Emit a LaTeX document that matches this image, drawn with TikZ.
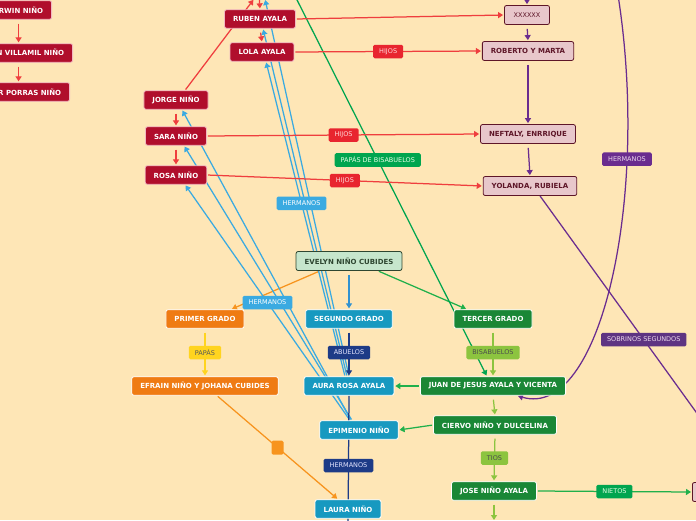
\documentclass[tikz,border=0pt]{standalone}
\usepackage{fontspec}
\setmainfont{DejaVu Sans}
\usetikzlibrary{arrows.meta}

\definecolor{paper}{HTML}{FEE6B6}
\definecolor{crimson}{HTML}{B00E2C}
\definecolor{blush}{HTML}{F2B8C2}
\definecolor{rose}{HTML}{E8C7CB}
\definecolor{maroon}{HTML}{5E1628}
\definecolor{tealbox}{HTML}{1799C0}
\definecolor{forest}{HTML}{1A8736}
\definecolor{tangerine}{HTML}{EF7B13}
\definecolor{mint}{HTML}{C6E6CC}
\definecolor{pine}{HTML}{2E4630}
\definecolor{redline}{HTML}{EF3E3E}
\definecolor{hijosred}{HTML}{E8252F}
\definecolor{grape}{HTML}{6A2C8F}
\definecolor{plum}{HTML}{5E3482}
\definecolor{sky}{HTML}{3AAAE1}
\definecolor{skydark}{HTML}{3092D1}
\definecolor{navy}{HTML}{1D3B87}
\definecolor{leaf}{HTML}{20B04B}
\definecolor{kelly}{HTML}{00A54F}
\definecolor{lime}{HTML}{8CC43F}
\definecolor{amber}{HTML}{F7941E}
\definecolor{gold}{HTML}{FFD41F}

\newcommand\boxfont{\bfseries\fontsize{7}{8.4}\selectfont}
\newcommand\tagfont{\fontsize{6.5}{7.8}\selectfont}

\pgfdeclarelayer{bg}
\pgfdeclarelayer{edges}
\pgfsetlayers{bg,edges,main}

\begin{document}
\begin{tikzpicture}[x=1pt, y=-1pt, node distance=36pt, >={Triangle[width=6pt,length=5pt]},
  block/.style={rectangle, rounded corners=2pt, draw=white, line width=0.8pt, minimum height=18.5pt, inner xsep=8.5pt, inner ysep=1pt, text=white, font=\boxfont},
  rednode/.style={block, fill=crimson, draw=blush},
  pinknode/.style={block, fill=rose, draw=maroon, text=maroon, minimum height=19pt},
  tealnode/.style={block, fill=tealbox},
  greennode/.style={block, fill=forest},
  orangenode/.style={block, fill=tangerine},
  mintnode/.style={block, fill=mint, draw=pine, text=pine, minimum height=19pt},
  tag/.style={rectangle, rounded corners=1.5pt, minimum height=13.5pt, inner xsep=6pt, inner ysep=1pt, font=\tagfont},
  hijostag/.style={tag, fill=hijosred, text=red!15},
  skytag/.style={tag, fill=sky, text=white},
  navytag/.style={tag, fill=navy, text=blue!10},
  purpletag/.style={tag, fill=grape, text=violet!15},
  plumtag/.style={tag, fill=plum, text=violet!15},
  kellytag/.style={tag, fill=kelly, text=green!10},
  limetag/.style={tag, fill=lime, text=black!70},
  goldtag/.style={tag, fill=gold, text=black!65},
  amberbox/.style={rectangle, rounded corners=1.5pt, fill=amber, minimum width=12pt, minimum height=14pt, inner sep=0pt},
  link/.style={->, line width=1.25pt, shorten <=1pt, shorten >=1pt},
  vgap/.style={shorten <=4pt}]

  \begin{pgfonlayer}{bg}
    \fill[paper] (0,0) rectangle (696,520);
  \end{pgfonlayer}
  \useasboundingbox (0,0) rectangle (696,520);

  % left edge
  \node[rednode, anchor=east] (erwin) at (52,10) {ERWIN NIÑO};
  \node[rednode, anchor=east] (villamil) at (73,53) {JHON VILLAMIL NIÑO};
  \node[rednode, anchor=east] (porras) at (70,92) {OSCAR PORRAS NIÑO};

  \node[rednode] (jorge) at (176,100) {JORGE NIÑO};
  \node[rednode, below of=jorge] (sara) {SARA NIÑO};
  \node[rednode, below of=sara, node distance=39pt] (rosa) {ROSA NIÑO};

  \node[rednode] (ruben) at (260,19) {RUBEN AYALA};
  \node[rednode, below of=ruben, node distance=33pt, xshift=2pt] (lola) {LOLA AYALA};

  % right column
  \node[pinknode, font=\tagfont, minimum width=45pt] (xxxxxx) at (527,15) {XXXXXX};
  \node[pinknode] (roberto) at (528,51) {ROBERTO Y MARTA};
  \node[pinknode] (neftaly) at (528,134) {NEFTALY, ENRRIQUE};
  \node[pinknode] (yolanda) at (530,186) {YOLANDA, RUBIELA};
  \node[pinknode, anchor=west, minimum width=40pt] (nietos) at (692,492) {};

  % grades
  \node[mintnode] (evelyn) at (349,261) {EVELYN NIÑO CUBIDES};
  \node[orangenode] (primer) at (205,319) {PRIMER GRADO};
  \node[tealnode] (segundo) at (349,319) {SEGUNDO GRADO};
  \node[greennode] (tercer) at (493,319) {TERCER GRADO};
  \node[orangenode, below of=primer, node distance=67pt] (efrain) {EFRAIN NIÑO Y JOHANA CUBIDES};
  \node[tealnode, below of=segundo, node distance=67pt] (aura) {AURA ROSA AYALA};
  \node[greennode, below of=tercer, node distance=67pt] (juan) {JUAN DE JESUS AYALA Y VICENTA};
  \node[tealnode] (epimenio) at (359,430) {EPIMENIO NIÑO};
  \node[greennode] (ciervo) at (495,425) {CIERVO NIÑO Y DULCELINA};
  \node[tealnode] (laura) at (348,509) {LAURA NIÑO};
  \node[greennode] (jose) at (494,491) {JOSE NIÑO AYALA};

  % loose ends off the page
  \node[coordinate] (jorgetop) at (254,-1) {};
  \node[coordinate] (rubentop) at (259,-6) {};
  \node[coordinate] (skytop) at (265,-1) {};
  \node[coordinate] (xtop) at (527,-8) {};
  \node[coordinate] (greentop) at (292,-10) {};
  \node[coordinate] (curvetop) at (618,-5) {};
  \node[coordinate] (sobrinos) at (722,448) {};
  \node[coordinate] (navyend) at (348,530) {};
  \node[coordinate] (joseend) at (494,521) {};

  \begin{pgfonlayer}{edges}
  % orange
  \draw[link, amber] ([xshift=-29pt]evelyn.south) -- ([xshift=26pt]primer.north);
  \draw[link, gold, vgap] (primer.south) -- node[goldtag] {PAPÁS} (efrain.north);
  \draw[link, amber] ([xshift=12pt]efrain.south) -- node[amberbox] {} ([xshift=-10pt]laura.north);

  % green
  \draw[link, leaf] ([xshift=29pt]evelyn.south) -- ([xshift=-26pt]tercer.north);
  \draw[link, kelly] (greentop) -- node[kellytag, pos=0.44] {PAPÁS DE BISABUELOS} ([xshift=-6pt]juan.north);
  \draw[link, leaf] (juan.west) -- (aura.east);
  \draw[link, leaf] (ciervo.west) -- (epimenio.east);
  \draw[link, leaf] (jose.east) -- node[kellytag] {NIETOS} (nietos.west);
  \draw[link, lime, vgap] (tercer.south) -- node[limetag] {BISABUELOS} (juan.north);
  \draw[link, lime, vgap] (juan.south) -- (ciervo.north);
  \draw[link, lime, vgap] (ciervo.south) -- node[limetag] {TIOS} (jose.north);
  \draw[link, lime, vgap] (jose.south) -- (joseend);

  % purple
  \draw[link, grape] (xtop) -- (xxxxxx.north);
  \draw[link, grape, vgap] (xxxxxx.south) -- (roberto.north);
  \draw[link, grape, vgap] (roberto.south) -- (neftaly.north);
  \draw[link, grape, vgap] (neftaly.south) -- (yolanda.north);
  \draw[grape, line width=1.25pt] ([xshift=10pt]yolanda.south) -- node[plumtag, pos=0.57] {SOBRINOS SEGUNDOS} (sobrinos);
  \draw[link, grape] (curvetop) .. controls (650,200) and (600,420) .. node[purpletag, pos=0.27] {HERMANOS} ([xshift=24pt]juan.south);

  % blue
  \draw[link, sky] ([xshift=-8pt]epimenio.north) -- ([xshift=6pt]jorge.south);
  \draw[link, sky] ([xshift=-7pt]epimenio.north) -- ([xshift=8pt]sara.south);
  \draw[link, sky] ([xshift=-2pt]aura.north) -- ([xshift=3pt]ruben.south);
  \draw[link, sky] (aura.north) -- (skytop);
  \draw[link, sky] ([xshift=-9pt]epimenio.north) -- node[skytag] {HERMANOS} ([xshift=9pt]rosa.south);
  \draw[link, sky] ([xshift=-4pt]aura.north) -- node[skytag, pos=0.55] {HERMANOS} ([xshift=4pt]lola.south);
  \draw[link, skydark, vgap] (evelyn.south) -- (segundo.north);
  \draw[link, navy, vgap] (segundo.south) -- node[navytag] {ABUELOS} (aura.north);
  \draw[navy, line width=1.25pt] (aura.south) -- node[navytag, pos=0.52] {HERMANOS} (navyend);

  % red
  \draw[link, redline, vgap] (erwin.south) -- (erwin.south |- villamil.north);
  \draw[link, redline, vgap] (erwin.south |- villamil.south) -- (erwin.south |- porras.north);
  \draw[link, redline, vgap] (jorge.south) -- (sara.north);
  \draw[link, redline, vgap] (sara.south) -- (rosa.north);
  \draw[link, redline] ([xshift=9pt]jorge.north) -- (jorgetop);
  \draw[link, redline] (rubentop) -- (ruben.north);
  \draw[link, redline, vgap] (ruben.south) -- (lola.north);
  \draw[link, redline] (ruben.east) -- (xxxxxx.west);
  \draw[link, redline] (lola.east) -- node[hijostag] {HIJOS} (roberto.west);
  \draw[link, redline] (sara.east) -- node[hijostag] {HIJOS} (neftaly.west);
  \draw[link, redline] (rosa.east) -- node[hijostag] {HIJOS} (yolanda.west);
  \end{pgfonlayer}

\end{tikzpicture}
\end{document}
